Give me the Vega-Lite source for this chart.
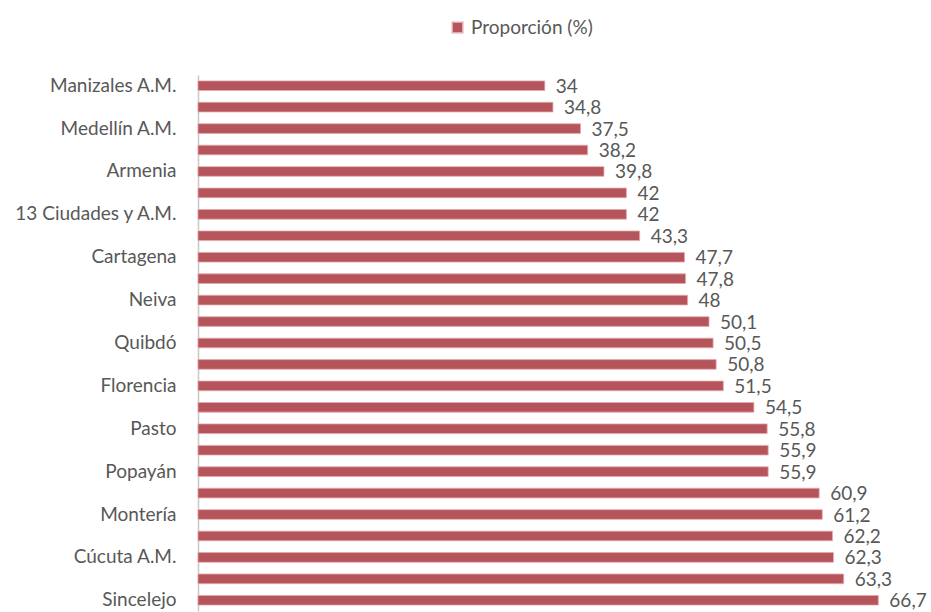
{
  "$schema": "https://vega.github.io/schema/vega-lite/v6.json",
  "width": 714,
  "height": 536,
  "autosize": {"type": "none"},
  "padding": {"left": 198, "top": 75, "right": 19, "bottom": 1},
  "background": "white",
  "config": {
    "view": {"stroke": null},
    "font": "Lato",
    "locale": {"number": {"decimal": ",", "thousands": ".", "grouping": [3], "currency": ["$", ""]}}
  },
  "data": {
    "values": [
      {"ciudad": "Manizales A.M.", "proporcion": 34, "serie": "Proporción (%)"},
      {"ciudad": "Bogotá D.C.", "proporcion": 34.8, "serie": "Proporción (%)"},
      {"ciudad": "Medellín A.M.", "proporcion": 37.5, "serie": "Proporción (%)"},
      {"ciudad": "Tunja", "proporcion": 38.2, "serie": "Proporción (%)"},
      {"ciudad": "Armenia", "proporcion": 39.8, "serie": "Proporción (%)"},
      {"ciudad": "Pereira A.M.", "proporcion": 42, "serie": "Proporción (%)"},
      {"ciudad": "13 Ciudades y A.M.", "proporcion": 42, "serie": "Proporción (%)"},
      {"ciudad": "Cali A.M.", "proporcion": 43.3, "serie": "Proporción (%)"},
      {"ciudad": "Cartagena", "proporcion": 47.7, "serie": "Proporción (%)"},
      {"ciudad": "Bucaramanga A.M.", "proporcion": 47.8, "serie": "Proporción (%)"},
      {"ciudad": "Neiva", "proporcion": 48, "serie": "Proporción (%)"},
      {"ciudad": "Ibagué", "proporcion": 50.1, "serie": "Proporción (%)"},
      {"ciudad": "Quibdó", "proporcion": 50.5, "serie": "Proporción (%)"},
      {"ciudad": "Villavicencio", "proporcion": 50.8, "serie": "Proporción (%)"},
      {"ciudad": "Florencia", "proporcion": 51.5, "serie": "Proporción (%)"},
      {"ciudad": "Barranquilla A.M.", "proporcion": 54.5, "serie": "Proporción (%)"},
      {"ciudad": "Pasto", "proporcion": 55.8, "serie": "Proporción (%)"},
      {"ciudad": "San Andrés", "proporcion": 55.9, "serie": "Proporción (%)"},
      {"ciudad": "Popayán", "proporcion": 55.9, "serie": "Proporción (%)"},
      {"ciudad": "Santa Marta", "proporcion": 60.9, "serie": "Proporción (%)"},
      {"ciudad": "Montería", "proporcion": 61.2, "serie": "Proporción (%)"},
      {"ciudad": "Valledupar", "proporcion": 62.2, "serie": "Proporción (%)"},
      {"ciudad": "Cúcuta A.M.", "proporcion": 62.3, "serie": "Proporción (%)"},
      {"ciudad": "Riohacha", "proporcion": 63.3, "serie": "Proporción (%)"},
      {"ciudad": "Sincelejo", "proporcion": 66.7, "serie": "Proporción (%)"}
    ]
  },
  "encoding": {
    "y": {
      "field": "ciudad",
      "type": "nominal",
      "sort": null,
      "scale": {"paddingInner": 0.55, "paddingOuter": 0.275},
      "axis": {
        "title": null,
        "ticks": false,
        "domainColor": "#c8c8c8",
        "domainWidth": 1.5,
        "labelFontSize": 19,
        "labelColor": "#585858",
        "labelPadding": 22,
        "labelExpr": "indexof(['Manizales A.M.','Medellín A.M.','Armenia','13 Ciudades y A.M.','Cartagena','Neiva','Quibdó','Florencia','Pasto','Popayán','Montería','Cúcuta A.M.','Sincelejo'], datum.label) >= 0 ? datum.label : ''"
      }
    },
    "x": {
      "field": "proporcion",
      "type": "quantitative",
      "scale": {"domain": [0, 70]},
      "axis": null
    }
  },
  "layer": [
    {
      "mark": {"type": "bar", "stroke": "#e3a9ad", "strokeWidth": 0.8},
      "encoding": {
        "color": {
          "field": "serie",
          "type": "nominal",
          "scale": {"range": ["#b5545b"]},
          "legend": {
            "title": null,
            "orient": "none",
            "legendX": 250,
            "legendY": -57,
            "symbolType": "square",
            "symbolSize": 110,
            "labelFontSize": 19,
            "labelColor": "#585858"
          }
        }
      }
    },
    {
      "mark": {"type": "text", "align": "left", "baseline": "middle", "dx": 11, "dy": 1, "fontSize": 19, "color": "#585858"},
      "encoding": {
        "text": {"field": "proporcion", "type": "quantitative", "format": "~r"}
      }
    }
  ]
}
